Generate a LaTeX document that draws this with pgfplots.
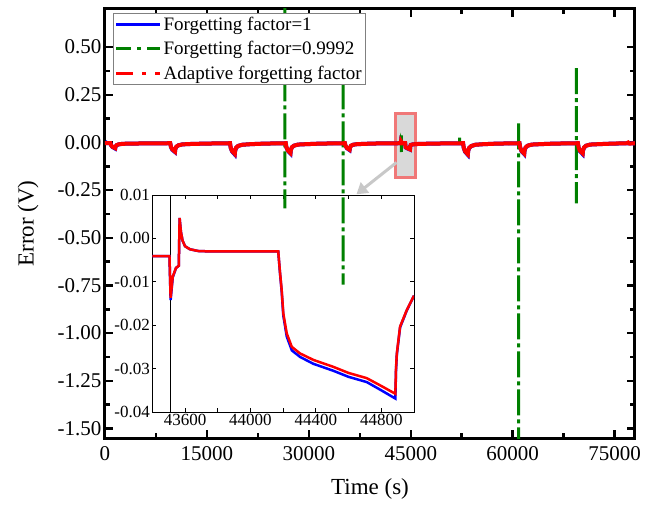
\documentclass[border=0pt]{standalone}
\usepackage{fontspec}
\setmainfont{Liberation Serif}
\usepackage{pgfplots}
\usepackage{pgfplotstable}
\pgfplotsset{compat=1.18}
\usetikzlibrary{arrows.meta}

\definecolor{ffblue}{RGB}{0,0,255}
\definecolor{ffgreen}{RGB}{0,128,0}
\definecolor{ffred}{RGB}{255,0,0}
\definecolor{boxfill}{RGB}{217,217,217}
\definecolor{boxedge}{RGB}{240,120,120}
\definecolor{arrowgray}{RGB}{200,200,200}

% main-scale error, adaptive forgetting factor
\pgfplotstableread{
t e
0 -0.004
800 -0.004
900 -0.014
1100 -0.023
1500 -0.030
1550 -0.021
1700 -0.014
2000 -0.010
2600 -0.007
3800 -0.006
5800 -0.005
9600 -0.004
9700 -0.022
9900 -0.036
10300 -0.048
10350 -0.034
10500 -0.022
10800 -0.015
11400 -0.010
12600 -0.008
14600 -0.006
18400 -0.004
18500 -0.027
18700 -0.045
19100 -0.060
19150 -0.042
19300 -0.027
19600 -0.018
20200 -0.012
21400 -0.009
23400 -0.006
26600 -0.004
26700 -0.025
26900 -0.041
27300 -0.055
27350 -0.039
27500 -0.025
27800 -0.017
28400 -0.011
29600 -0.009
31600 -0.006
35300 -0.004
35400 -0.017
35600 -0.029
36000 -0.038
36050 -0.027
36200 -0.017
36500 -0.012
37100 -0.009
38300 -0.007
40300 -0.005
43500 -0.004
43510 -0.014
43567 0.005
43700 -0.003
44170 -0.003
44250 -0.025
44500 -0.030
44886 -0.036
44915 -0.020
45000 -0.013
45300 -0.010
46000 -0.008
48000 -0.006
52700 -0.004
52800 -0.028
53000 -0.047
53400 -0.062
53450 -0.043
53600 -0.028
53900 -0.019
54500 -0.012
55700 -0.009
57700 -0.006
61000 -0.004
61100 -0.026
61300 -0.044
61700 -0.058
61750 -0.041
61900 -0.026
62200 -0.017
62800 -0.011
64000 -0.009
66000 -0.006
69600 -0.004
69700 -0.026
69900 -0.044
70300 -0.058
70350 -0.041
70500 -0.026
70800 -0.017
71400 -0.011
72600 -0.009
74600 -0.006
76800 -0.004
77000 0.000
77200 -0.006
78000 -0.004
}\redmain

% forgetting factor = 1
\pgfplotstableread{
t e
0 0.004
300 -0.004
800 -0.004
900 -0.015
1100 -0.024
1500 -0.032
1550 -0.022
1700 -0.015
2000 -0.010
2600 -0.007
3800 -0.006
5800 -0.005
9600 -0.004
9700 -0.023
9900 -0.038
10300 -0.050
10350 -0.035
10500 -0.023
10800 -0.015
11400 -0.010
12600 -0.008
14600 -0.006
18400 -0.004
18500 -0.028
18700 -0.047
19100 -0.063
19150 -0.044
19300 -0.028
19600 -0.018
20200 -0.012
21400 -0.009
23400 -0.006
26600 -0.004
26700 -0.026
26900 -0.043
27300 -0.058
27350 -0.041
27500 -0.026
27800 -0.017
28400 -0.011
29600 -0.009
31600 -0.006
35300 -0.004
35400 -0.018
35600 -0.030
36000 -0.040
36050 -0.028
36200 -0.018
36500 -0.012
37100 -0.009
38300 -0.007
40300 -0.005
43500 -0.004
43510 -0.014
43567 0.005
43700 -0.003
44170 -0.003
44250 -0.026
44500 -0.031
44886 -0.037
44915 -0.020
45000 -0.013
45300 -0.010
46000 -0.008
48000 -0.006
52700 -0.004
52800 -0.029
53000 -0.049
53400 -0.065
53450 -0.045
53600 -0.029
53900 -0.019
54500 -0.012
55700 -0.009
57700 -0.006
61000 -0.004
61100 -0.027
61300 -0.046
61700 -0.061
61750 -0.043
61900 -0.027
62200 -0.017
62800 -0.011
64000 -0.009
66000 -0.006
69600 -0.004
69700 -0.027
69900 -0.046
70300 -0.061
70350 -0.043
70500 -0.027
70800 -0.017
71400 -0.011
72600 -0.009
74600 -0.006
78000 -0.004
}\bluemain

% forgetting factor = 0.9992 (nan rows split off the spikes)
\pgfplotstableread{
t e
0 -0.004
800 -0.004
900 -0.014
1100 -0.023
1500 -0.030
1550 -0.021
1700 -0.014
2000 -0.010
2600 -0.007
3800 -0.006
5800 -0.005
9600 -0.004
9700 -0.022
9900 -0.036
10300 -0.048
10350 -0.034
10500 -0.022
10800 -0.015
11400 -0.010
12600 -0.008
14600 -0.006
18400 -0.004
18500 -0.027
18700 -0.045
19100 -0.060
19150 -0.042
19300 -0.027
19600 -0.018
20200 -0.012
21400 -0.009
23400 -0.006
26460 -0.005
26465 nan
26470 0.750
26475 -0.346
26478 nan
26480 -0.005
26600 -0.004
26700 -0.025
26900 -0.041
27300 -0.055
27350 -0.039
27500 -0.025
27800 -0.017
28400 -0.011
29600 -0.009
31600 -0.006
35040 -0.005
35045 nan
35050 0.310
35055 -0.745
35058 nan
35060 -0.005
35300 -0.004
35400 -0.017
35600 -0.029
36000 -0.038
36050 -0.027
36200 -0.017
36500 -0.012
37100 -0.009
38300 -0.007
40300 -0.005
43500 -0.004
43510 -0.014
43567 0.005
43620 -0.003
43622 nan
43625 0.037
43630 -0.050
43632 nan
43635 -0.003
43700 -0.003
44170 -0.003
44250 -0.025
44500 -0.030
44886 -0.036
44915 -0.020
45000 -0.013
45300 -0.010
46000 -0.008
48000 -0.006
52190 -0.004
52195 nan
52198 0.026
52200 -0.004
52700 -0.004
52800 -0.028
53000 -0.047
53400 -0.062
53450 -0.043
53600 -0.028
53900 -0.019
54500 -0.012
55700 -0.009
57700 -0.006
60870 -0.005
60875 nan
60880 0.100
60885 -1.600
60888 nan
60890 -0.005
61000 -0.004
61100 -0.026
61300 -0.044
61700 -0.058
61750 -0.041
61900 -0.026
62200 -0.017
62800 -0.011
64000 -0.009
66000 -0.006
69350 -0.005
69355 nan
69360 0.390
69365 -0.320
69368 nan
69370 -0.005
69600 -0.004
69700 -0.026
69900 -0.044
70300 -0.058
70350 -0.041
70500 -0.026
70800 -0.017
71400 -0.011
72600 -0.009
74600 -0.006
78000 -0.004
}\greenmain

% zoomed segment, adaptive forgetting factor
\pgfplotstableread{
t e
43400 -0.0041
43505 -0.0041
43512 -0.0137
43525 -0.0088
43545 -0.0068
43562 -0.0063
43567 0.0047
43575 0.0015
43585 -0.0005
43600 -0.0018
43630 -0.0025
43680 -0.0029
43750 -0.0030
44170 -0.0030
44180 -0.0075
44191 -0.0119
44201 -0.0173
44222 -0.0219
44253 -0.0250
44303 -0.0265
44385 -0.0280
44507 -0.0296
44600 -0.0310
44711 -0.0322
44800 -0.0340
44886 -0.0358
44890 -0.0300
44895 -0.0265
44915 -0.0203
44956 -0.0165
45000 -0.0132
}\redzoom

% zoomed segment, forgetting factor = 1
\pgfplotstableread{
t e
43400 -0.0041
43505 -0.0041
43512 -0.0142
43525 -0.0090
43545 -0.0068
43562 -0.0063
43567 0.0047
43575 0.0015
43585 -0.0005
43600 -0.0018
43630 -0.0025
43680 -0.0029
43750 -0.0030
44170 -0.0030
44180 -0.0077
44191 -0.0122
44201 -0.0178
44222 -0.0226
44253 -0.0258
44303 -0.0273
44385 -0.0289
44507 -0.0305
44600 -0.0319
44711 -0.0331
44800 -0.0350
44886 -0.0369
44890 -0.0305
44895 -0.0268
44915 -0.0205
44956 -0.0166
45000 -0.0132
}\bluezoom

\begin{document}
\begin{tikzpicture}
% inset first, so the main green spikes run over it as in the original
\begin{axis}[
    at={(47.3pt,26pt)}, anchor=south west,
    scale only axis, width=261.7pt, height=217pt,
    xmin=43400, xmax=45000, ymin=-0.04, ymax=0.01,
    xtick={43600,44000,44400,44800},
    minor xtick={43400,43800,44200,44600,45000},
    ytick={-0.04,-0.03,-0.02,-0.01,0,0.01},
    tick align=inside, major tick length=4pt, minor tick length=4pt,
    every tick/.style={black, line width=0.8pt},
    axis line style={line width=1pt},
    tick label style={font=\fontsize{17}{20}\selectfont},
    /pgf/number format/assume math mode=true,
    xticklabel style={/pgf/number format/.cd, fixed, set thousands separator={}},
    yticklabel style={/pgf/number format/.cd, fixed, fixed zerofill, precision=2},
    scaled x ticks=false, scaled y ticks=false,
    xticklabel shift=-1pt, yticklabel shift=-1pt,
    axis background/.style={fill=white},
]
\addplot[black, line width=1pt] coordinates {(43510,-0.04) (43510,0.01)};
\addplot[ffblue, line width=2.5pt] table[x=t, y=e] {\bluezoom};
\addplot[ffred, line width=2.5pt] table[x=t, y=e] {\redzoom};
\end{axis}

\begin{axis}[
    at={(0pt,0pt)}, anchor=south west,
    scale only axis, width=530pt, height=429pt,
    xmin=0, xmax=78000, ymin=-1.55, ymax=0.70,
    xtick={0,15000,30000,45000,60000,75000}, minor x tick num=1,
    ytick={-1.5,-1.25,-1,-0.75,-0.5,-0.25,0,0.25,0.5}, minor y tick num=1,
    tick align=inside, major tick length=8pt, minor tick length=5pt,
    every tick/.style={black, line width=2.5pt},
    axis line style={line width=3pt},
    tick label style={font=\fontsize{21}{25}\selectfont},
    label style={font=\fontsize{23}{27}\selectfont},
    /pgf/number format/assume math mode=true,
    xticklabel style={/pgf/number format/.cd, fixed, set thousands separator={}},
    yticklabel style={/pgf/number format/.cd, fixed, fixed zerofill, precision=2},
    scaled x ticks=false, scaled y ticks=false,
    xticklabel shift=5pt,
    unbounded coords=jump,
    xlabel={Time (s)}, ylabel={Error (V)},
    xlabel style={at={(axis description cs:0.5,-0.119)}, anchor=center},
    ylabel style={at={(axis description cs:-0.145,0.5)}, anchor=center},
    legend image code/.code={\draw[#1] (0pt,0pt) -- (44pt,0pt);},
    legend style={at={(0.015,0.99)}, anchor=north west, draw=gray,
        font=\fontsize{19}{21}\selectfont, inner sep=1.5pt, row sep=5.5pt,
        cells={anchor=west}},
]
\draw[boxedge, line width=3pt, fill=boxfill] (axis cs:42800,0.152) rectangle (axis cs:45700,-0.183);
\draw[arrowgray, line width=3pt, -{Triangle[length=11pt,width=13pt]}]
    (axis cs:42900,-0.105) -- (axis cs:37000,-0.272);

\addplot[ffblue, line width=4pt, forget plot] table[x=t, y=e] {\bluemain};
\addplot[ffgreen, line width=3pt, dash pattern=on 26pt off 4pt on 4pt off 4pt, forget plot] table[x=t, y=e] {\greenmain};
\addplot[ffred, line width=4pt, forget plot] table[x=t, y=e] {\redmain};

\addlegendimage{ffblue, line width=3pt}
\addlegendentry{Forgetting factor=1}
\addlegendimage{ffgreen, line width=3pt, dash pattern=on 15pt off 6pt on 4pt off 6pt}
\addlegendentry{Forgetting factor=0.9992}
\addlegendimage{ffred, line width=3pt, dash pattern=on 17pt off 9pt on 4pt off 9pt}
\addlegendentry{Adaptive forgetting factor}
\end{axis}
\pgfresetboundingbox
\useasboundingbox (-105pt,-66pt) rectangle (554pt,438pt);
\end{tikzpicture}
\end{document}
